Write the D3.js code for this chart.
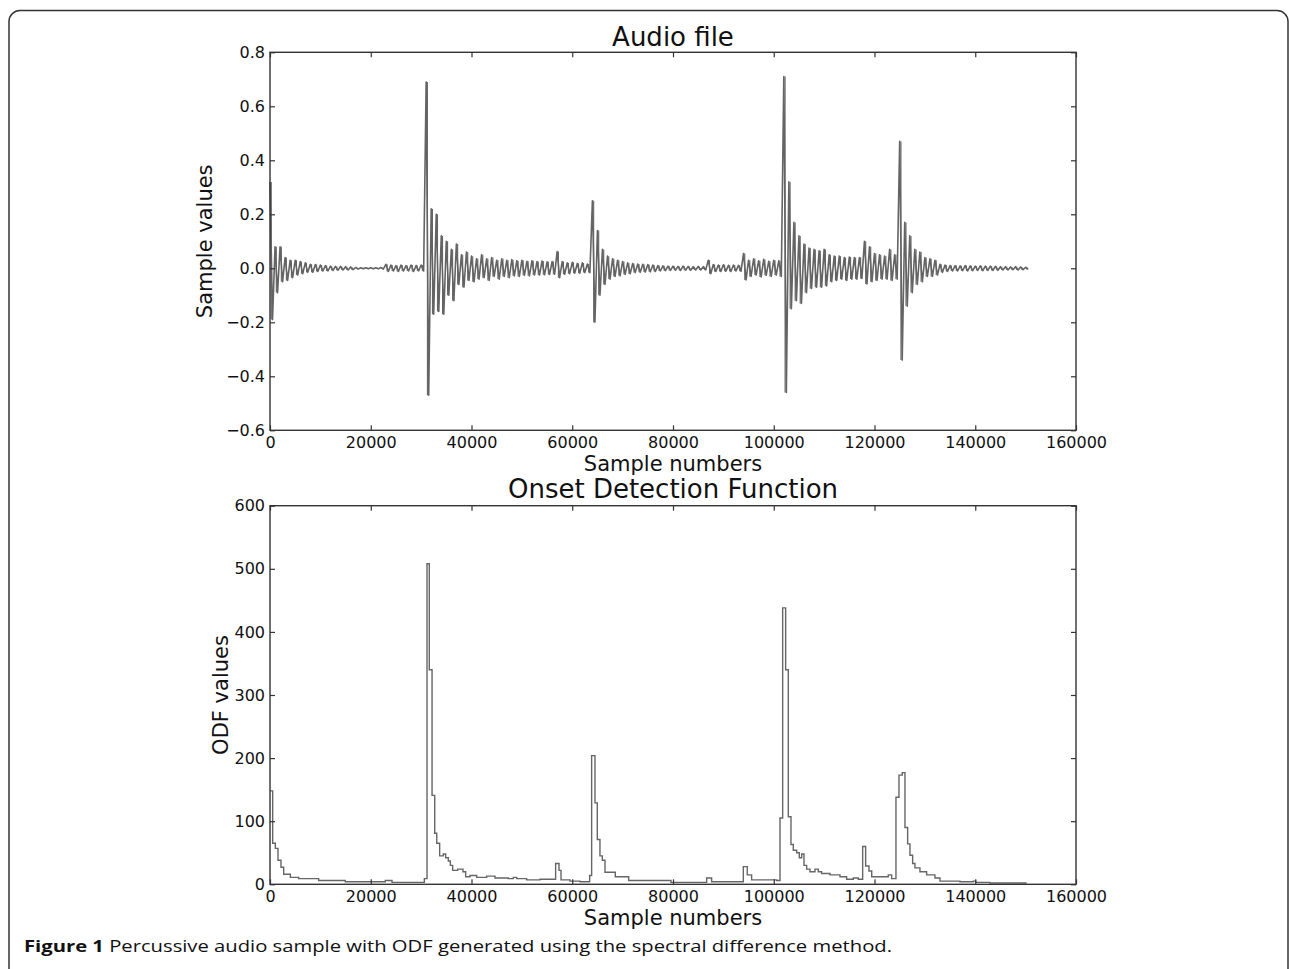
<!DOCTYPE html>
<html>
<head>
<meta charset="utf-8">
<script src="https://cdn.jsdelivr.net/npm/d3@7"></script>
<style>
  html, body { margin: 0; padding: 0; background: #fff; }
  svg { display: block; }
  .axis text { font-family: "DejaVu Sans", sans-serif; font-size: 16px; fill: #111; }
  .axis line { stroke: #333; stroke-width: 1.2; }
  .label { font-family: "DejaVu Sans", sans-serif; font-size: 21px; fill: #111; }
  .title { font-family: "DejaVu Sans", sans-serif; font-size: 26px; fill: #111; }
</style>
</head>
<body>
<svg id="fig" width="1290" height="969"></svg>
<script>
// ---------- values ----------
const xTicks = [0, 20000, 40000, 60000, 80000, 100000, 120000, 140000, 160000];
const audioYTicks = [-0.6, -0.4, -0.2, 0.0, 0.2, 0.4, 0.6, 0.8];
const odfYTicks = [0, 100, 200, 300, 400, 500, 600];

// audio file: peak envelope (max / min) per block of 1000 samples
const BLOCK = 1000;
const audioMax = [
  .32, .08, .08, .04, .03, .03, .025, .02, .015, .014,
  .012, .01, .008, .007, .007, .006, .005, .003, .002, .002,
  .002, .002, .003, .015, .012, .01, .012, .01, .012, .01,
  .012, .69, .22, .2, .12, .1, .07, .09, .05, .06,
  .045, .035, .05, .035, .04, .03, .035, .03, .032, .028,
  .03, .026, .028, .025, .027, .024, .025, .062, .025, .02,
  .022, .018, .02, .016, .25, .14, .07, .045, .035, .03,
  .025, .02, .018, .016, .015, .014, .012, .01, .009, .008,
  .008, .007, .008, .007, .006, .007, .006, .03, .014, .012,
  .013, .011, .012, .011, .055, .03, .035, .028, .033, .026,
  .03, .028, .71, .32, .17, .12, .09, .075, .07, .065,
  .07, .05, .045, .045, .04, .042, .04, .04, .1, .08,
  .055, .05, .045, .07, .05, .47, .17, .12, .07, .06,
  .04, .035, .03, .015, .012, .01, .01, .009, .01, .009,
  .008, .009, .008, .008, .007, .006, .006, .005, .006, .005,
  .004
];
const audioMin = [
  -.19, -.09, -.05, -.045, -.035, -.025, -.02, -.015, -.015, -.012,
  -.01, -.01, -.008, -.007, -.006, -.006, -.005, -.003, -.002, -.002,
  -.002, -.002, -.003, -.012, -.01, -.012, -.01, -.01, -.012, -.01,
  -.01, -.47, -.17, -.16, -.17, -.1, -.12, -.06, -.07, -.045,
  -.05, -.04, -.035, -.045, -.03, -.04, -.03, -.035, -.028, -.03,
  -.026, -.028, -.025, -.025, -.024, -.023, -.022, -.035, -.022, -.02,
  -.018, -.018, -.016, -.016, -.2, -.1, -.06, -.04, -.03, -.028,
  -.022, -.02, -.016, -.015, -.014, -.013, -.012, -.01, -.009, -.008,
  -.007, -.008, -.007, -.007, -.006, -.006, -.006, -.02, -.012, -.012,
  -.011, -.012, -.01, -.011, -.043, -.03, -.025, -.032, -.026, -.03,
  -.025, -.03, -.46, -.15, -.12, -.13, -.09, -.075, -.07, -.07,
  -.065, -.05, -.045, -.04, -.045, -.04, -.04, -.038, -.058, -.05,
  -.045, -.04, -.04, -.045, -.04, -.34, -.14, -.09, -.06, -.05,
  -.03, -.03, -.025, -.015, -.012, -.01, -.01, -.009, -.01, -.009,
  -.008, -.009, -.008, -.008, -.007, -.006, -.006, -.005, -.006, -.005,
  -.004
];

// onset detection function: sample number where each step starts, and its value
const odfX = [
  0, 530, 1060, 1590, 2180, 2720, 4040, 5690, 9660, 14950,
  22890, 24220, 30640, 31170, 31620, 32170, 32700, 33100, 33680, 34400,
  34870, 35400, 35800, 36260, 37250, 38310, 38840, 39700, 41030, 43010,
  44660, 47310, 48300, 48960, 50950, 53600, 56700, 57370, 57770, 59550,
  61540, 63450, 63850, 64510, 64970, 65500, 65970, 66500, 68540, 71200,
  79600, 86680, 87670, 93960, 94740, 95610, 100570, 101240, 101770, 102360,
  102890, 103420, 103880, 104550, 105070, 105540, 106000, 106530, 107190, 108180,
  108840, 109500, 111160, 113150, 114470, 115790, 116780, 117650, 118240, 118900,
  119450, 122740, 123400, 124260, 124860, 125510, 126050, 126580, 127040, 127570,
  128030, 129020, 130350, 132000, 133000, 136970, 139600, 140100, 142900, 150200
];
const odfY = [
  148, 65, 57, 38, 27, 16, 11, 9, 6, 4,
  6, 3, 9, 508, 340, 141, 81, 65, 45, 48,
  42, 37, 30, 22, 24, 20, 12, 14, 11, 13,
  10, 9, 11, 9, 7, 8, 33, 22, 7, 5,
  4, 14, 204, 129, 71, 45, 38, 19, 12, 6,
  3, 10, 4, 28, 15, 7, 6, 105, 438, 340,
  107, 63, 54, 50, 42, 48, 30, 24, 20, 24,
  20, 17, 15, 12, 8, 10, 8, 60, 29, 21,
  12, 15, 9, 138, 173, 177, 90, 64, 46, 33,
  26, 20, 15, 10, 5, 4, 5, 3, 2, 2
];

// ---------- layout ----------
const svg = d3.select('#fig');
const left = 270, right = 1076;
const top1 = 52.3, bot1 = 430.3;
const top2 = 505.7, bot2 = 884.3;

const x = d3.scaleLinear().domain([0, 160000]).range([left, right]);
const yAudio = d3.scaleLinear().domain([-0.6, 0.8]).range([bot1, top1]);
const yOdf = d3.scaleLinear().domain([0, 600]).range([bot2, top2]);

// figure frame (rounded box, cut by the page edge)
svg.append('rect')
  .attr('x', 9).attr('y', 10.5)
  .attr('width', 1279).attr('height', 1000)
  .attr('rx', 11)
  .attr('fill', 'none')
  .attr('stroke', '#333')
  .attr('stroke-width', 1.5);

function drawAxes(y, yTicks, yFmt, y0, y1) {
  const g = svg.append('g');

  // inward ticks on all four sides, labels only bottom and left
  g.append('g').attr('class', 'axis')
    .attr('transform', `translate(0,${y1})`)
    .call(d3.axisBottom(x).tickValues(xTicks).tickSizeInner(-5).tickSizeOuter(0).tickPadding(6)
      .tickFormat(d3.format('d')));
  g.append('g').attr('class', 'axis')
    .attr('transform', `translate(0,${y0})`)
    .call(d3.axisTop(x).tickValues(xTicks).tickSizeInner(-5).tickSizeOuter(0).tickFormat(''));
  g.append('g').attr('class', 'axis')
    .attr('transform', `translate(${left},0)`)
    .call(d3.axisLeft(y).tickValues(yTicks).tickSizeInner(-5).tickSizeOuter(0).tickPadding(5)
      .tickFormat(yFmt));
  g.append('g').attr('class', 'axis')
    .attr('transform', `translate(${right},0)`)
    .call(d3.axisRight(y).tickValues(yTicks).tickSizeInner(-5).tickSizeOuter(0).tickFormat(''));

  g.selectAll('.axis .domain').remove();
  g.selectAll('.axis text').attr('font-size', null).attr('font-family', null);

  g.append('rect')
    .attr('x', left).attr('y', y0)
    .attr('width', right - left).attr('height', y1 - y0)
    .attr('fill', 'none')
    .attr('stroke', '#333')
    .attr('stroke-width', 1.4);
  return g;
}

// ---------- top: audio waveform ----------
const wave = svg.append('g');
// min/max column of every block, then the oscillation through the peaks
wave.selectAll('line')
  .data(audioMax)
  .join('line')
  .attr('x1', (d, i) => x(i * BLOCK + BLOCK / 4))
  .attr('x2', (d, i) => x(i * BLOCK + BLOCK / 4))
  .attr('y1', d => yAudio(d))
  .attr('y2', (d, i) => yAudio(audioMin[i]))
  .attr('stroke', '#666')
  .attr('stroke-width', 1.1);
const audioPts = audioMax.flatMap((v, i) => [[i * BLOCK, v], [i * BLOCK + BLOCK / 2, audioMin[i]]]);
wave.append('path')
  .datum(audioPts)
  .attr('d', d3.line().x(d => x(d[0])).y(d => yAudio(d[1])))
  .attr('fill', 'none')
  .attr('stroke', '#646464')
  .attr('stroke-width', 1.6)
  .attr('stroke-linejoin', 'round');

drawAxes(yAudio, audioYTicks, d3.format('.1f'), top1, bot1);

svg.append('text').attr('class', 'title')
  .attr('x', (left + right) / 2).attr('y', 46)
  .attr('text-anchor', 'middle')
  .text('Audio file');
svg.append('text').attr('class', 'label')
  .attr('x', (left + right) / 2).attr('y', 471)
  .attr('text-anchor', 'middle')
  .text('Sample numbers');
svg.append('text').attr('class', 'label')
  .attr('transform', `translate(212,${(top1 + bot1) / 2}) rotate(-90)`)
  .attr('text-anchor', 'middle')
  .text('Sample values');

// ---------- bottom: onset detection function ----------
const odfPts = odfX.map((v, i) => [v, odfY[i]]);
svg.append('path')
  .datum(odfPts)
  .attr('d', d3.line().x(d => x(d[0])).y(d => yOdf(d[1])).curve(d3.curveStepAfter))
  .attr('fill', 'none')
  .attr('stroke', '#666')
  .attr('stroke-width', 1.4);

drawAxes(yOdf, odfYTicks, d3.format('d'), top2, bot2);

svg.append('text').attr('class', 'title')
  .attr('x', (left + right) / 2).attr('y', 498)
  .attr('text-anchor', 'middle')
  .text('Onset Detection Function');
svg.append('text').attr('class', 'label')
  .attr('x', (left + right) / 2).attr('y', 925)
  .attr('text-anchor', 'middle')
  .text('Sample numbers');
svg.append('text').attr('class', 'label')
  .attr('transform', `translate(228,${(top2 + bot2) / 2}) rotate(-90)`)
  .attr('text-anchor', 'middle')
  .text('ODF values');

// ---------- caption ----------
const cap = svg.append('text')
  .attr('x', 24).attr('y', 952)
  .attr('font-family', '"Open Sans", sans-serif')
  .attr('font-size', 16.5)
  .attr('fill', '#111')
  .attr('textLength', 868)
  .attr('lengthAdjust', 'spacingAndGlyphs');
cap.append('tspan').attr('font-weight', 'bold').text('Figure 1');
cap.append('tspan').text(' Percussive audio sample with ODF generated using the spectral difference method.');
</script>
</body>
</html>
